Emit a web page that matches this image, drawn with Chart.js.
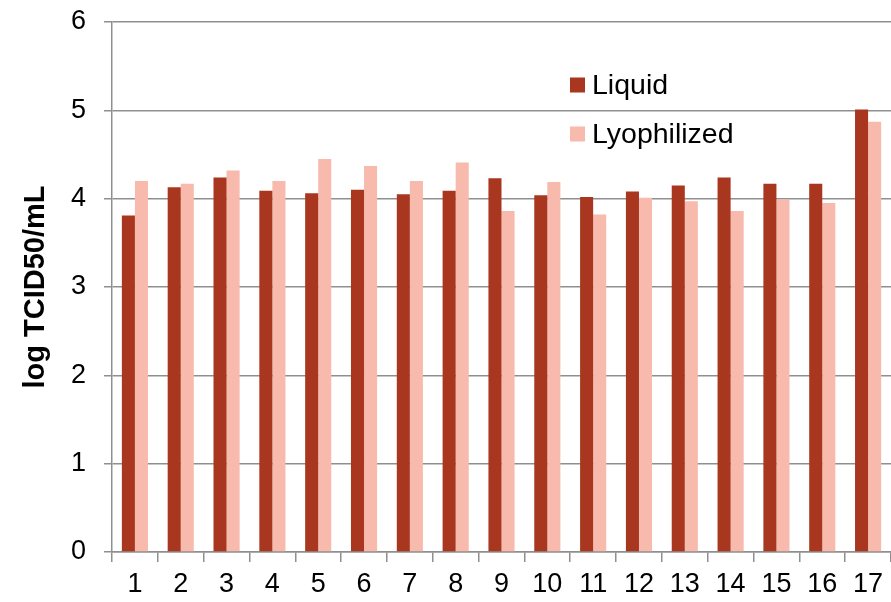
<!DOCTYPE html>
<html>
<head>
<meta charset="utf-8">
<script src="https://cdn.jsdelivr.net/npm/chart.js@4"></script>
<style>
  html, body { margin: 0; padding: 0; background: #ffffff; }
  #wrap { width: 891px; height: 602px; }
</style>
</head>
<body>
<div id="wrap"><canvas id="c" width="891" height="602"></canvas></div>
<script>
// Virus titre per sample, two formulations
const categories = ['1','2','3','4','5','6','7','8','9','10','11','12','13','14','15','16','17'];
const liquid      = [3.81, 4.13, 4.24, 4.09, 4.06, 4.10, 4.05, 4.09, 4.23, 4.04, 4.02, 4.08, 4.15, 4.24, 4.17, 4.17, 5.01];
const lyophilized = [4.20, 4.17, 4.32, 4.20, 4.45, 4.37, 4.20, 4.41, 3.86, 4.19, 3.82, 4.01, 3.97, 3.86, 3.99, 3.95, 4.87];
const yTicks = [0, 1, 2, 3, 4, 5, 6];

const FONT = '"Liberation Sans", Arial, sans-serif';
const GRID = '#8f8f8f';

// Legend drawn inside the plot area, upper right of centre
const innerLegend = {
  id: 'innerLegend',
  afterDraw(chart) {
    const ctx = chart.ctx;
    const x0 = 570, y0 = 85, step = 49, box = 15;
    ctx.save();
    ctx.font = '28.5px ' + FONT;
    ctx.textBaseline = 'middle';
    ctx.textAlign = 'left';
    chart.data.datasets.forEach((ds, i) => {
      const y = y0 + i * step;
      ctx.fillStyle = ds.backgroundColor;
      ctx.fillRect(x0, y - box / 2, box, box);
      ctx.fillStyle = '#000000';
      ctx.fillText(ds.label, x0 + box + 7, y + 1);
    });
    ctx.restore();
  }
};

new Chart(document.getElementById('c'), {
  type: 'bar',
  data: {
    labels: categories,
    datasets: [
      { label: 'Liquid', data: liquid, backgroundColor: '#A9371F',
        categoryPercentage: 0.57, barPercentage: 1.0 },
      { label: 'Lyophilized', data: lyophilized, backgroundColor: '#F7BAAC',
        categoryPercentage: 0.57, barPercentage: 1.0 }
    ]
  },
  options: {
    responsive: false,
    animation: false,
    layout: { padding: { top: 22, right: 0, left: 0, bottom: 0 } },
    plugins: {
      legend: { display: false },
      tooltip: { enabled: false }
    },
    scales: {
      x: {
        grid: {
          display: true, offset: true, drawOnChartArea: false,
          drawTicks: true, tickLength: 10, color: GRID, lineWidth: 1.5
        },
        border: { display: true, color: GRID, width: 1.5 },
        ticks: { color: '#000', font: { family: FONT, size: 27 }, padding: 6,
                 maxRotation: 0, autoSkip: false },
        afterFit(scale) { scale.height = 50; scale.paddingLeft = 0; scale.paddingRight = 0; }
      },
      y: {
        min: 0, max: 6,
        afterBuildTicks(scale) { scale.ticks = yTicks.map(v => ({ value: v })); },
        grid: { color: GRID, lineWidth: 1.5, drawTicks: true, tickLength: 8 },
        border: { display: true, color: GRID, width: 1.5 },
        ticks: { color: '#000', font: { family: FONT, size: 27 }, padding: 18 },
        title: {
          display: true, text: 'log TCID50/mL', color: '#000',
          font: { family: FONT, size: 29, weight: 'bold' }, padding: { top: 19, bottom: 6 }
        },
        afterFit(scale) { scale.width = 112; scale.paddingTop = 0; scale.paddingBottom = 0; }
      }
    }
  },
  plugins: [innerLegend]
});
</script>
</body>
</html>
